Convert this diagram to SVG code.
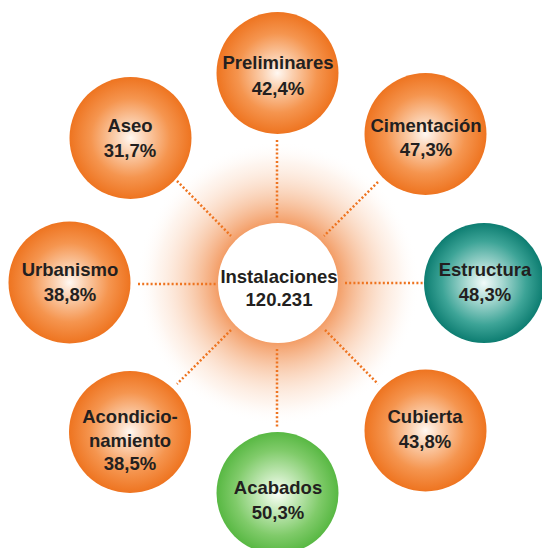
<svg xmlns="http://www.w3.org/2000/svg" width="542" height="548" viewBox="0 0 542 548">
<defs>
<radialGradient id="glow" cx="278" cy="283" r="142" gradientUnits="userSpaceOnUse">
<stop offset="0.4" stop-color="#f0843f" stop-opacity="0.85"/>
<stop offset="0.6" stop-color="#f4a46f" stop-opacity="0.55"/>
<stop offset="0.85" stop-color="#fbd6bd" stop-opacity="0.25"/>
<stop offset="1" stop-color="#ffffff" stop-opacity="0"/>
</radialGradient>
<radialGradient id="orange" cx="50%" cy="50%" r="50%">
<stop offset="0" stop-color="#fff8f2"/>
<stop offset="0.25" stop-color="#fbcfae"/>
<stop offset="0.65" stop-color="#f5954f"/>
<stop offset="1" stop-color="#ee7420"/>
</radialGradient>
<radialGradient id="teal" cx="50%" cy="50%" r="50%">
<stop offset="0" stop-color="#f2fbfa"/>
<stop offset="0.3" stop-color="#a9d9d2"/>
<stop offset="0.7" stop-color="#3da497"/>
<stop offset="1" stop-color="#0d7d71"/>
</radialGradient>
<radialGradient id="green" cx="50%" cy="50%" r="50%">
<stop offset="0" stop-color="#fbfff9"/>
<stop offset="0.3" stop-color="#c5e9b9"/>
<stop offset="0.7" stop-color="#80cb6a"/>
<stop offset="1" stop-color="#58b843"/>
</radialGradient>
</defs>
<style>
text{font-family:"Liberation Sans",Arial,sans-serif;font-weight:bold;font-size:18.5px;fill:#231f20;text-anchor:middle}
.dot{stroke:#ee7420;stroke-width:2.5;stroke-dasharray:2 2.2;fill:none}
.o{fill:url(#orange)}
.t{fill:url(#teal)}
.g{fill:url(#green)}
</style>
<rect width="542" height="548" fill="#ffffff"/>
<circle cx="278" cy="283" r="142" fill="url(#glow)"/>
<g id="connectors">
<line class="dot" x1="277" y1="140" x2="277" y2="218"/>
<line class="dot" x1="378" y1="182" x2="324" y2="236"/>
<line class="dot" x1="345" y1="283" x2="424" y2="283"/>
<line class="dot" x1="325" y1="330" x2="378" y2="384"/>
<line class="dot" x1="277" y1="349" x2="277" y2="427"/>
<line class="dot" x1="231" y1="330" x2="177" y2="384"/>
<line class="dot" x1="138" y1="284" x2="216" y2="284"/>
<line class="dot" x1="177" y1="181" x2="231" y2="236"/>
</g>
<g id="instalaciones">
<circle cx="278" cy="283" r="60" fill="#ffffff"/>
<text x="279" y="283">Instalaciones</text>
<text x="279" y="306">120.231</text>
</g>
<g id="preliminares">
<circle class="o" cx="277.5" cy="73" r="61"/>
<text x="278" y="69">Preliminares</text>
<text x="278" y="95">42,4%</text>
</g>
<g id="cimentacion">
<circle class="o" cx="425.5" cy="134" r="61"/>
<text x="426" y="132">Cimentación</text>
<text x="426" y="156">47,3%</text>
</g>
<g id="estructura">
<circle class="t" cx="484" cy="283" r="60"/>
<text x="485" y="276">Estructura</text>
<text x="485" y="301">48,3%</text>
</g>
<g id="cubierta">
<circle class="o" cx="425.5" cy="430.5" r="61"/>
<text x="425" y="423">Cubierta</text>
<text x="425" y="448">43,8%</text>
</g>
<g id="acabados">
<circle class="g" cx="277.5" cy="493" r="61"/>
<text x="278" y="494">Acabados</text>
<text x="278" y="519">50,3%</text>
</g>
<g id="acondicionamiento">
<circle class="o" cx="130" cy="432" r="61"/>
<text x="130" y="423">Acondicio-</text>
<text x="130" y="447">namiento</text>
<text x="130" y="470">38,5%</text>
</g>
<g id="urbanismo">
<circle class="o" cx="69.5" cy="282.5" r="61"/>
<text x="70" y="276">Urbanismo</text>
<text x="70" y="301">38,8%</text>
</g>
<g id="aseo">
<circle class="o" cx="130.5" cy="138" r="61"/>
<text x="130" y="132">Aseo</text>
<text x="130" y="157">31,7%</text>
</g>
</svg>
